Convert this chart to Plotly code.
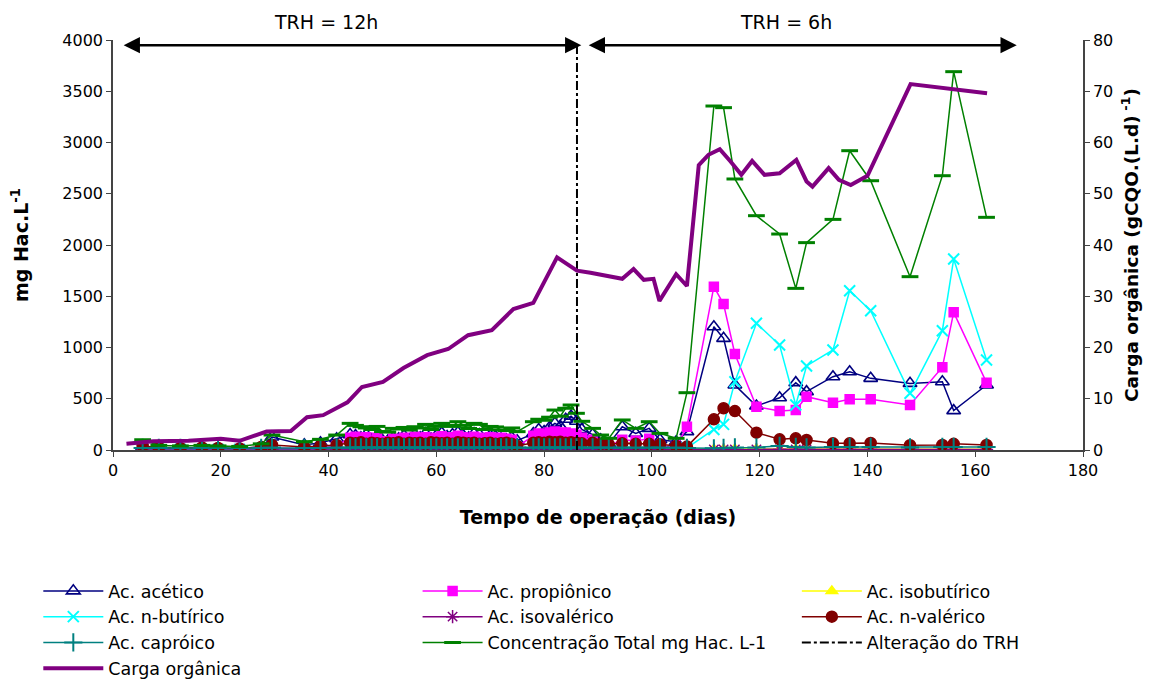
import plotly.graph_objects as go

# ---------------- data ----------------
days = [5.5, 8.5, 12.5, 16.5, 19.5, 23.5, 27.5, 29.5, 35.5, 38.5, 41.5,
        44, 45, 46, 47, 48, 49, 50, 51, 52, 53, 54, 55, 56, 57, 58, 59, 60, 61, 62, 63,
        64, 65, 66, 67, 68, 69, 70, 71, 72, 73, 74, 75,
        78, 79, 80, 81, 82, 83, 84, 85, 86, 87,
        89, 90.5, 92, 94.5, 97, 99.5, 101.5, 104.5,
        106.5, 111.5, 113.3, 115.4, 119.4, 123.7, 126.7, 128.7, 133.6, 136.7, 140.6,
        147.9, 153.9, 156, 162.1]

acetico = [30, 20, 15, 20, 15, 15, 30, 127, 50, 70, 110,
           150, 140, 120, 150, 100, 130, 95, 90, 120, 110, 140, 100, 150, 120, 160, 110,
           140, 165, 130, 150, 170, 140, 120, 160, 150, 100, 140, 130, 110, 100, 120, 90,
           160, 200, 180, 220, 260, 230, 300, 330, 280, 200,
           150, 100, 60, 227, 162, 211, 100, 81,
           179, 1203, 1089, 634, 429, 510, 657, 569, 715, 764, 699, 650, 666, 384, 634]

propionico = [10, 10, 10, 10, 10, 10, 10, 20, 10, 20, 40,
              120, 130, 110, 125, 90, 120, 80, 85, 110, 100, 120, 95, 130, 115, 125, 100,
              120, 135, 110, 125, 140, 125, 110, 130, 120, 110, 125, 115, 120, 110, 100, 30,
              140, 160, 150, 170, 180, 165, 170, 160, 150, 120,
              100, 60, 40, 100, 90, 110, 40, 30,
              227, 1593, 1424, 937, 423, 380, 390, 520, 461, 494, 494, 439, 807, 1343, 657]

isobutirico = [2, 2, 2, 2, 2, 2, 2, 3, 2, 2, 3,
               5, 5, 5, 5, 5, 5, 5, 5, 5, 5, 5, 5, 5, 5, 5, 5,
               5, 5, 5, 5, 5, 5, 5, 5, 5, 5, 5, 5, 5, 5, 5, 5,
               5, 5, 5, 5, 5, 5, 5, 5, 5, 5,
               3, 3, 3, 3, 3, 3, 3, 3,
               5, 8, 8, 10, 10, 8, 10, 8, 8, 8, 8, 5, 8, 10, 8]

nbutirico = [5, 5, 5, 5, 5, 5, 5, 10, 5, 5, 10,
             10, 10, 10, 10, 10, 10, 10, 10, 10, 10, 10, 10, 10, 10, 10, 10,
             10, 10, 10, 10, 10, 10, 10, 10, 10, 10, 10, 10, 10, 10, 10, 5,
             15, 15, 15, 15, 15, 15, 15, 15, 15, 15,
             10, 5, 5, 10, 5, 10, 5, 5,
             20, 200, 250, 666, 1236, 1024, 439, 820, 976, 1554, 1359, 553, 1164, 1863, 878]

isovalerico = [10, 10, 10, 10, 10, 10, 10, 10, 10, 10, 10,
               10, 10, 10, 10, 10, 10, 10, 10, 10, 10, 10, 10, 10, 10, 10, 10,
               10, 10, 10, 10, 10, 10, 10, 10, 10, 10, 10, 10, 10, 10, 10, 10,
               10, 10, 10, 10, 10, 10, 10, 10, 10, 10,
               10, 10, 10, 10, 10, 10, 10, 10,
               5, 5, 5, 5, 5, 5, 5, 5, 5, 5, 5, 5, 5, 5, 5]

nvalerico = [40, 25, 20, 25, 20, 15, 30, 50, 30, 40, 50,
             70, 65, 75, 60, 70, 65, 60, 70, 65, 75, 60, 70, 65, 70, 60, 75,
             70, 65, 70, 60, 75, 70, 65, 70, 60, 65, 70, 60, 65, 70, 60, 40,
             70, 75, 70, 80, 75, 80, 70, 75, 70, 65,
             70, 60, 55, 65, 60, 60, 55, 40,
             33, 299, 407, 380, 169, 104, 114, 98, 65, 65, 68, 46, 50, 60, 50]

caproico = [20, 20, 20, 20, 20, 20, 20, 25, 20, 20, 25,
            25, 25, 25, 25, 25, 25, 25, 25, 25, 25, 25, 25, 25, 25, 25, 25,
            25, 25, 25, 25, 25, 25, 25, 25, 25, 25, 25, 25, 25, 25, 25, 25,
            25, 25, 25, 25, 25, 25, 25, 25, 25, 25,
            25, 25, 25, 25, 25, 25, 25, 25,
            20, 17, 20, 25, 25, 40, 30, 25, 30, 30, 30, 25, 30, 30, 30]

total = [100, 45, 40, 45, 40, 35, 60, 146, 80, 104, 146,
         260, 240, 227, 215, 200, 230, 180, 175, 211, 205, 220, 195, 227, 215, 250, 200,
         230, 260, 240, 230, 276, 240, 210, 260, 250, 200, 230, 225, 195, 190, 215, 179,
         276, 300, 290, 320, 390, 330, 407, 439, 358, 280,
         211, 146, 114, 293, 211, 276, 162, 114,
         559, 3356, 3340, 2644, 2286, 2107, 1577, 2023, 2250, 2920, 2627, 1691, 2676, 3691, 2270]

carga_days = [2.5, 7.5, 14, 20, 23.5, 28.5, 33, 36, 39, 43.5, 46.2, 50.1, 53.9, 58.3,
              62.2, 65.9, 70.3, 74.3, 78, 82.4, 86.1, 88.6, 94.5, 96.6, 98.5, 100.3,
              101.4, 104.5, 106.5, 108.7, 110.5, 112.6, 114.6, 116.6, 118.6, 120.9,
              123.7, 126.8, 128.7, 129.8, 132.8, 134.7, 136.9, 140, 148, 162.2]
carga = [1.2, 1.7, 1.8, 2.2, 1.8, 3.6, 3.7, 6.4, 6.8, 9.3, 12.3, 13.3, 16.0, 18.5,
         19.7, 22.4, 23.4, 27.5, 28.7, 37.6, 35.0, 34.6, 33.4, 35.3, 33.2, 33.4,
         29.1, 34.3, 32.0, 55.6, 57.6, 58.7, 56.3, 53.7, 56.4, 53.7,
         54.0, 56.6, 52.4, 51.4, 55.0, 52.7, 51.7, 53.5, 71.4, 69.6]

trh_change_day = 86.1
trh_line_y = [0, 3950]

x_ticks = [0, 20, 40, 60, 80, 100, 120, 140, 160, 180]

# ---------------- figure ----------------
FONT = "DejaVu Sans"
fig = go.Figure()

def add(name, y, color, symbol, size, legend, mline=1.5, lw=1.5, mfill=None):
    fig.add_trace(go.Scatter(
        x=days, y=y, name=name, mode="lines+markers", legend=legend,
        legendgroup=name,
        line=dict(color=color, width=lw),
        marker=dict(symbol=symbol, size=size, color=mfill if mfill else color,
                    line=dict(color=color, width=mline)),
    ))

add("Ac. acético", acetico, "#000080", "triangle-up-open", 12, "legend", mline=1.6)
add("Ac. propiônico", propionico, "#FF00FF", "square", 9, "legend2")
add("Ac. isobutírico", isobutirico, "#FFFF00", "triangle-up", 10, "legend3")
add("Ac. n-butírico", nbutirico, "#00FFFF", "x-thin-open", 11, "legend", mline=2)
add("Ac. isovalérico", isovalerico, "#800080", "asterisk-open", 11, "legend2", mline=1.5)
add("Ac. n-valérico", nvalerico, "#800000", "circle", 11, "legend3")
add("Ac. capróico", caproico, "#008080", "cross-thin-open", 13, "legend", mline=2)
add("Concentração Total mg Hac. L-1", total, "#008000", "line-ew-open", 12, "legend2", mline=3)

fig.add_trace(go.Scatter(
    x=[trh_change_day, trh_change_day], y=trh_line_y, name="Alteração do TRH",
    mode="lines", legend="legend3", legendgroup="trh",
    line=dict(color="black", width=2, dash="dashdot")))

fig.add_trace(go.Scatter(
    x=carga_days, y=carga, name="Carga orgânica", mode="lines", yaxis="y2",
    legend="legend", legendgroup="carga", line=dict(color="#800080", width=4)))

# arrows and TRH labels
for x0, x1 in [(1.7, 86.9), (88.0, 167.7)]:
    fig.add_annotation(x=x1, y=3950, ax=x0, ay=3950, xref="x", yref="y",
                       axref="x", ayref="y", text="", showarrow=True,
                       arrowhead=2, startarrowhead=2, arrowside="end+start",
                       arrowsize=1.3, startarrowsize=1.3, arrowwidth=2.5, arrowcolor="black")
fig.add_annotation(x=39.5, y=1.0, yref="paper", xref="x", text="TRH = 12h",
                   showarrow=False, yanchor="middle", yshift=18,
                   font=dict(family=FONT, size=19, color="black"))
fig.add_annotation(x=124.8, y=1.0, yref="paper", xref="x", text="TRH = 6h",
                   showarrow=False, yanchor="middle", yshift=18,
                   font=dict(family=FONT, size=19, color="black"))

leg_common = dict(orientation="v", bgcolor="rgba(0,0,0,0)", itemwidth=60,
                  font=dict(family=FONT, size=17.5, color="black"),
                  tracegroupgap=0, xanchor="left", yanchor="top", itemclick=False)

axis_common = dict(showgrid=False, zeroline=False, showline=True, linecolor="#444",
                   linewidth=1.5, ticks="outside", ticklen=5, tickcolor="#444",
                   automargin=False, tickfont=dict(family=FONT, size=16))

# the page body adds an 8 px offset, so the figure is 8 px smaller and shifted
fig.update_layout(
    width=1145, height=671,
    margin=dict(l=105, r=70, t=32, b=229, autoexpand=False),
    paper_bgcolor="white", plot_bgcolor="white",
    font=dict(family=FONT, size=16, color="black"),
    xaxis=dict(range=[0, 180], tickvals=x_ticks, **axis_common,
               title=dict(text="<b>Tempo de operação (dias)</b>", standoff=32,
                          font=dict(family=FONT, size=19))),
    yaxis=dict(range=[0, 4000], dtick=500, **axis_common,
               title=dict(text="<b>mg Hac.L<sup>-1</sup></b>", standoff=30,
                          font=dict(family=FONT, size=19))),
    yaxis2=dict(range=[0, 80], dtick=10, overlaying="y", side="right", **axis_common,
                title=dict(text="<b>Carga orgânica (gCQO.(L.d)<sup> -1</sup>)</b>",
                           standoff=13, font=dict(family=FONT, size=18.5))),
    legend=dict(x=-0.077, y=-0.30, **leg_common),
    legend2=dict(x=0.314, y=-0.30, **leg_common),
    legend3=dict(x=0.705, y=-0.30, **leg_common),
    showlegend=True,
)

fig.write_html("out.html")
